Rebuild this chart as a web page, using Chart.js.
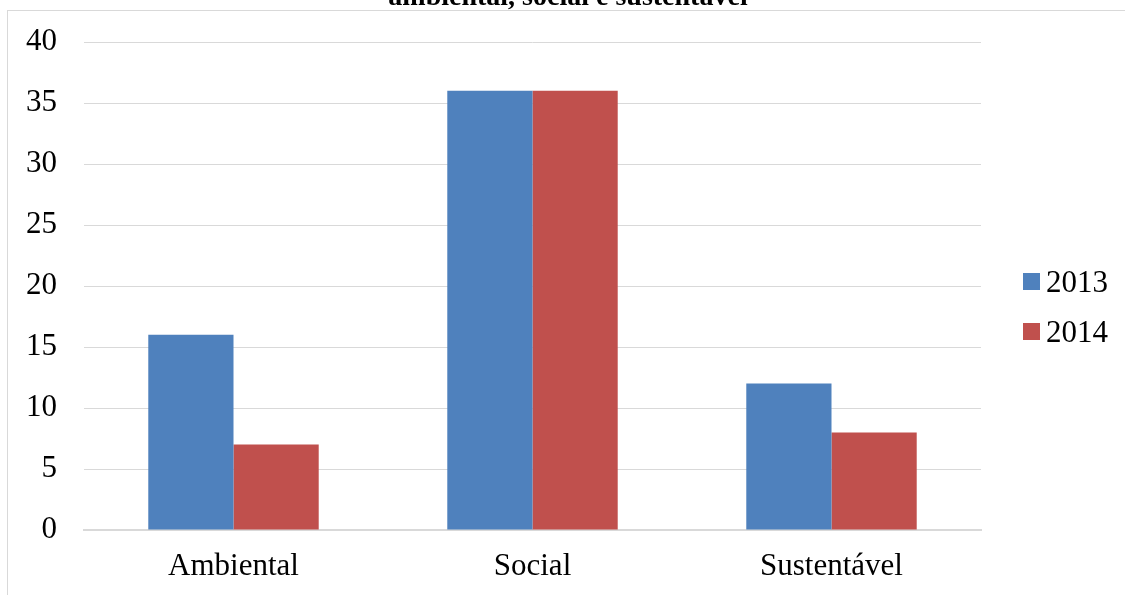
<!DOCTYPE html>
<html>
<head>
<meta charset="utf-8">
<script src="https://cdn.jsdelivr.net/npm/chart.js@4/dist/chart.umd.min.js"></script>
<style>
  html, body { margin: 0; padding: 0; background: #ffffff; overflow: hidden; }
  #wrap { position: relative; width: 1125px; height: 595px; overflow: hidden; }
  #frame { position: absolute; left: 7px; top: 10px; width: 1300px; height: 800px;
           border: 1px solid #d9d9d9; box-sizing: border-box; }
  #c { position: absolute; left: 0; top: 0; }
</style>
</head>
<body>
<div id="wrap">
  <div id="frame"></div>
  <canvas id="c" width="1125" height="595"></canvas>
</div>
<script>
const categories = ['Ambiental', 'Social', 'Sustentável'];
const seriesNames = ['2013', '2014'];
const values2013 = [16, 36, 12];
const values2014 = [7, 36, 8];
const yTicks = [0, 5, 10, 15, 20, 25, 30, 35, 40];
const titleText = 'ambiental, social e sustentável';

const FONT = '"Liberation Serif", "Times New Roman", serif';

// Title line sits at the very top edge of the canvas
const titleLine = {
  id: 'titleLine',
  afterDraw(chart) {
    const ctx = chart.ctx;
    ctx.save();
    ctx.font = 'bold 28px ' + FONT;
    ctx.fillStyle = '#000000';
    ctx.textAlign = 'center';
    ctx.textBaseline = 'alphabetic';
    ctx.fillText(titleText, 568, 5);
    ctx.restore();
  }
};

// Legend to the right of the plot: colour square followed by the series name
const sideLegend = {
  id: 'sideLegend',
  afterDraw(chart) {
    const ctx = chart.ctx;
    ctx.save();
    ctx.font = '31px ' + FONT;
    ctx.textAlign = 'left';
    ctx.textBaseline = 'alphabetic';
    chart.data.datasets.forEach((ds, i) => {
      const top = 273 + i * 50;
      ctx.fillStyle = ds.backgroundColor;
      ctx.fillRect(1023, top, 17, 17);
      ctx.fillStyle = '#000000';
      ctx.fillText(ds.label, 1046, top + 19);
    });
    ctx.restore();
  }
};

new Chart(document.getElementById('c'), {
  type: 'bar',
  data: {
    labels: categories,
    datasets: [
      { label: seriesNames[0], data: values2013, backgroundColor: '#4f81bd' },
      { label: seriesNames[1], data: values2014, backgroundColor: '#c0504d' }
    ]
  },
  options: {
    responsive: false,
    animation: false,
    devicePixelRatio: 1,
    layout: { padding: { top: 42, right: 144, bottom: 0, left: 0 } },
    datasets: { bar: { categoryPercentage: 0.57, barPercentage: 1.0 } },
    plugins: {
      title: { display: false },
      tooltip: { enabled: false },
      legend: { display: false }
    },
    scales: {
      x: {
        grid: { display: false, drawTicks: false },
        border: { display: true, color: '#d9d9d9', width: 2 },
        ticks: { color: '#000000', padding: 18, font: { family: FONT, size: 31 } },
        afterFit(scale) { scale.height = 65; }
      },
      y: {
        min: 0,
        max: 40,
        afterBuildTicks(scale) { scale.ticks = yTicks.map(v => ({ value: v })); },
        grid: { color: '#d9d9d9', lineWidth: 1, drawTicks: false },
        border: { display: false },
        ticks: { color: '#000000', padding: 27, font: { family: FONT, size: 31 } },
        afterFit(scale) {
          scale.width = 84;
          scale.paddingTop = 0;
          scale.paddingBottom = 0;
        }
      }
    }
  },
  plugins: [titleLine, sideLegend]
});
</script>
</body>
</html>
